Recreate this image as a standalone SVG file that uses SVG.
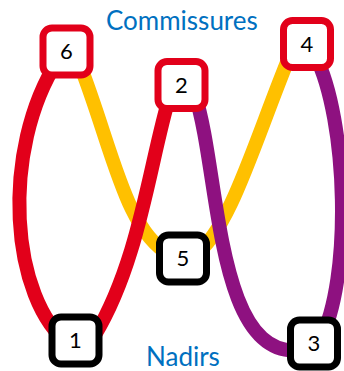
<svg xmlns="http://www.w3.org/2000/svg" width="344" height="371" viewBox="0 0 344 371">
<style>
.c{fill:none;stroke-width:14;stroke-linecap:butt}
.y{stroke:#FFC000}
.r{stroke:#E2001A}
.p{stroke:#8E1180}
.box{fill:#fff;stroke-width:7}
.top{stroke:#E2001A}
.bot{stroke:#000}
.num{font-family:Lato,"Open Sans",sans-serif;font-size:22px;fill:#000;text-anchor:middle}
.lab{font-family:Lato,"Open Sans",sans-serif;font-size:26px;fill:#0070C0}
</style>
<rect width="344" height="371" fill="#fff"/>
<g id="connectors">
<path class="c y" d="M80 65 C113 150 125 230 170 255"/>
<path class="c y" d="M195 255 C230 230 255 140 290 55"/>
<path class="c r" d="M58 60 C0 150 10 300 70 345"/>
<path class="c r" d="M170 95 C150 160 140 260 95 335"/>
<path class="c p" d="M195 95 C220 170 215 360 300 350"/>
<path class="c p" d="M315 55 C348 120 352 280 320 340"/>
</g>
<text class="lab" x="106" y="30">Commissures</text>
<text class="lab" x="146" y="366">Nadirs</text>
<g id="n6"><rect class="box top" x="43" y="28" width="47" height="47" rx="9"/><text class="num" x="66.5" y="59">6</text></g>
<g id="n2"><rect class="box top" x="158" y="61.5" width="47" height="47" rx="9"/><text class="num" x="181.5" y="93">2</text></g>
<g id="n4"><rect class="box top" x="283.5" y="20.5" width="47" height="47" rx="9"/><text class="num" x="307" y="52">4</text></g>
<g id="n1"><rect class="box bot" x="52" y="317" width="47" height="47" rx="9"/><text class="num" x="75.5" y="348">1</text></g>
<g id="n5"><rect class="box bot" x="159.5" y="235" width="47" height="47" rx="9"/><text class="num" x="183" y="266">5</text></g>
<g id="n3"><rect class="box bot" x="290.5" y="320" width="47" height="47" rx="9"/><text class="num" x="314" y="351">3</text></g>
</svg>
